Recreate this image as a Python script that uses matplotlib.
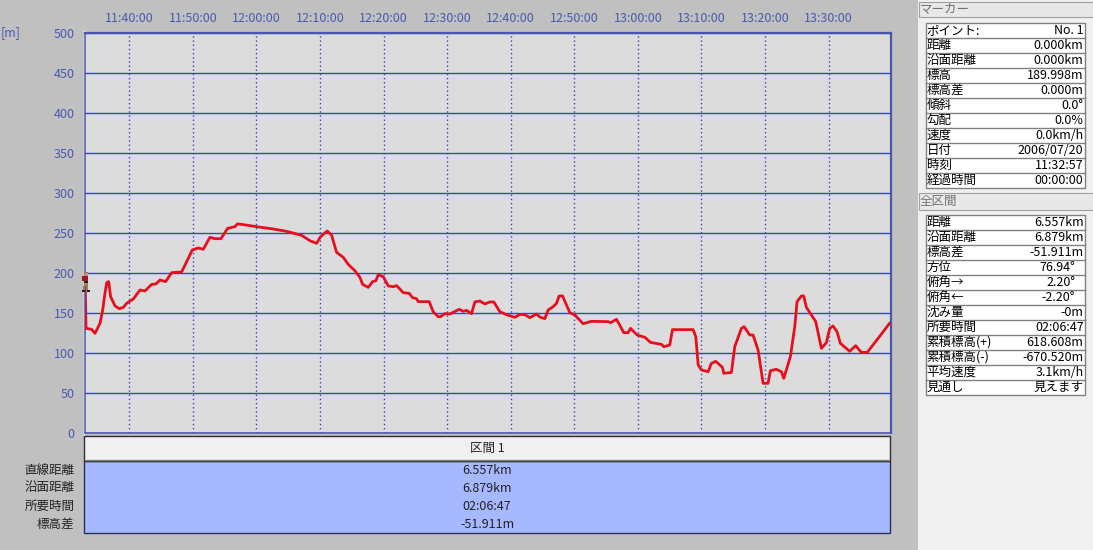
import matplotlib
matplotlib.use("Agg")
import numpy as np
import matplotlib.pyplot as plt
from matplotlib.patches import Rectangle

plt.rcParams["font.family"] = ["Noto Sans CJK JP", "DejaVu Sans"]

W, H = 1093, 550

# minutes since the start of the track (11:32:57)
START_TIME = "11:32:57"
TOTAL_MIN = 126.78
elapsed_min = [
    0.1, 0.24, 1.13, 1.65, 2.44, 2.86, 3.22, 3.49, 3.80, 4.11, 4.80, 5.48, 6.11, 6.63, 7.68,
    8.73, 9.51, 10.56, 11.24, 11.87, 12.76, 13.71, 15.28, 16.06, 16.96, 17.90, 18.68, 19.73,
    20.52, 21.46, 22.51, 23.66, 24.03, 24.71, 27.07, 29.69, 31.79, 34.15, 35.46, 36.51, 37.13,
    38.18, 38.86, 39.65, 40.70, 41.48, 42.53, 43.32, 43.74, 44.63, 45.31, 45.84, 46.20, 46.99,
    47.78, 48.57, 49.09, 49.61, 50.13, 51.07, 51.60, 52.23, 52.49, 54.22, 54.85, 55.63, 56.00,
    56.68, 57.47, 58.94, 59.57, 60.09, 60.88, 61.40, 62.19, 62.97, 63.76, 64.39, 65.33, 66.38,
    67.69, 68.48, 69.26, 70.05, 71.10, 71.62, 72.41, 72.93, 73.72, 74.24, 74.66, 75.19, 76.34,
    77.13, 78.43, 79.74, 82.37, 82.74, 83.68, 84.83, 85.51, 85.88, 86.93, 88.14, 89.02, 90.75,
    91.12, 92.06, 92.48, 95.73, 96.15, 96.53, 97.05, 98.09, 98.61, 99.29, 100.34, 100.55,
    101.76, 102.28, 103.33, 103.75, 104.64, 105.16, 105.95, 106.74, 107.52, 107.89, 108.83,
    109.62, 109.99, 111.03, 111.72, 112.08, 112.76, 113.13, 113.55, 115.02, 115.91, 116.69,
    117.22, 117.74, 118.37, 118.89, 120.36, 121.30, 122.19, 123.13, 126.64,
]
elevation_m = [
    190.0, 130.8, 129.6, 124.6, 137.1, 153.8, 174.6, 187.9, 189.2, 170.4, 158.8, 155.4, 157.1,
    162.1, 167.5, 178.8, 177.5, 185.8, 186.3, 191.3, 189.2, 200.4, 201.3, 214.2, 228.8, 231.3,
    229.6, 244.6, 242.9, 242.9, 255.8, 257.9, 261.3, 260.8, 257.9, 255.0, 252.1, 247.1, 240.4,
    237.1, 245.4, 252.5, 247.5, 225.8, 219.6, 210.8, 202.9, 194.6, 185.8, 182.1, 189.2, 190.4,
    197.9, 195.4, 183.8, 182.9, 184.2, 180.0, 175.4, 174.6, 169.2, 167.9, 164.2, 164.2, 151.6,
    145.4, 145.4, 149.2, 148.8, 154.6, 152.1, 153.3, 149.2, 163.8, 165.0, 161.3, 163.8, 163.8,
    151.6, 147.9, 144.6, 148.3, 147.9, 144.2, 148.8, 145.0, 142.9, 153.8, 157.9, 162.1, 171.3,
    171.3, 150.4, 147.5, 136.6, 139.6, 139.2, 137.9, 142.1, 125.4, 125.4, 130.8, 122.5, 119.6,
    113.3, 110.8, 107.9, 110.0, 129.2, 129.2, 120.4, 85.0, 78.8, 76.6, 87.1, 89.6, 82.1, 74.6,
    75.8, 107.9, 130.8, 132.9, 122.5, 122.5, 103.8, 62.1, 62.1, 77.9, 79.6, 76.6, 68.3, 95.4,
    132.9, 164.2, 171.3, 171.3, 157.1, 139.2, 105.8, 112.9, 130.8, 133.8, 126.7, 112.1, 102.1,
    109.2, 100.8, 100.8, 137.1,
]

# purple cursor line under the hiker
cursor_min = [0.1, 0.1]
cursor_m = [190.0, 150.0]

time_labels = ["11:40:00", "11:50:00", "12:00:00", "12:10:00", "12:20:00", "12:30:00",
               "12:40:00", "12:50:00", "13:00:00", "13:10:00", "13:20:00", "13:30:00"]
y_ticks = [0, 50, 100, 150, 200, 250, 300, 350, 400, 450, 500]

section_title = "区間 1"
section_names = ["直線距離", "沿面距離", "所要時間", "標高差"]
section_values = ["6.557km", "6.879km", "02:06:47", "-51.911m"]

marker_names = ["ポイント:", "距離", "沿面距離", "標高", "標高差", "傾斜", "勾配", "速度", "日付", "時刻", "経過時間"]
marker_values = ["No. 1", "0.000km", "0.000km", "189.998m", "0.000m", "0.0°", "0.0%", "0.0km/h",
                 "2006/07/20", "11:32:57", "00:00:00"]
total_names = ["距離", "沿面距離", "標高差", "方位", "俯角→", "俯角←", "沈み量", "所要時間",
               "累積標高(+)", "累積標高(-)", "平均速度", "見通し"]
total_values = ["6.557km", "6.879km", "-51.911m", "76.94°", "2.20°", "-2.20°", "-0m", "02:06:47",
                "618.608m", "-670.520m", "3.1km/h", "見えます"]

BG = "#C0C0C0"
PANEL = "#F0F0F0"
BLUE = "#3548B8"
TEXT_BLUE = "#4A5AAE"
DARK = "#222222"


def minutes_since_start(label):
    def to_min(s):
        h, m, sec = s.split(":")
        return int(h) * 60 + int(m) + int(sec) / 60
    return to_min(label) - to_min(START_TIME)


fig = plt.figure(figsize=(W / 100, H / 100), dpi=100, facecolor=BG)

# overlay in pixel coordinates for the window furniture
ui = fig.add_axes([0, 0, 1, 1], zorder=0)
ui.set_xlim(0, W)
ui.set_ylim(H, 0)
ui.axis("off")


def box(x0, y0, x1, y1, fc, ec="none", lw=1.0, z=1):
    ui.add_patch(Rectangle((x0, y0), x1 - x0, y1 - y0, facecolor=fc, edgecolor=ec, linewidth=lw, zorder=z))


def info_table(y0, names, values, nudge=()):
    row_h = 15
    box(925.5, y0 + 0.5, 1085, y0 + row_h * len(names) + 0.5, "white", "#808080", 1.0)
    for i, (name, value) in enumerate(zip(names, values)):
        y = y0 + row_h * (i + 0.5) + 1
        if i:
            ui.plot([925.5, 1085], [y0 + row_h * i + 0.5] * 2, color="#808080", lw=1.0, zorder=2)
        ui.text(926.5, y, name, fontsize=9, color="black", va="center", ha="left", zorder=3)
        right = 1075 if i in nudge else 1083.5
        ui.text(right, y, value, fontsize=9, color="black", va="center", ha="right", zorder=3)


# right hand panel
box(918, 0, W, H, PANEL)
box(919, 2, W, 17, "#E8E8E8", "#A0A0A0", 0.8)
ui.text(920, 9, "マーカー", fontsize=9, color="#707070", va="center")
info_table(22, marker_names, marker_values)
box(919, 193, W, 210, "#E8E8E8", "#A0A0A0", 0.8)
ui.text(920, 201, "全区間", fontsize=9, color="#707070", va="center")
info_table(214, total_names, total_values, nudge=(3, 4, 5))

# section table under the chart
box(84, 461, 889.5, 533, "#A6B8FF", "#2A2F5A", 1.0)
box(84, 436, 889.5, 461, PANEL, "#303030", 1.0)
ui.plot([86, 888], [460, 460], color="#808080", lw=1.0, zorder=2)
ui.text(487, 448, section_title, fontsize=9, color=DARK, ha="center", va="center", zorder=3)
for i, (name, value) in enumerate(zip(section_names, section_values)):
    y = 470 + 18 * i
    ui.text(74.5, y, name, fontsize=9, color=DARK, ha="right", va="center", zorder=3)
    ui.text(487, y, value, fontsize=9, color=DARK, ha="center", va="center", zorder=3)

ui.text(10.5, 33, "[m]", fontsize=9, color=TEXT_BLUE, ha="center", va="center")
ui.plot([83.5, 83.5], [31, 434], color="white", lw=1.0)

# elevation profile
left, right, top, bottom = 84.5, 890.5, 33, 433
ax = fig.add_axes([left / W, 1 - bottom / H, (right - left) / W, (bottom - top) / H],
                  facecolor="#DCDCDC", zorder=2)
ax.set_xlim(0, TOTAL_MIN)
ax.set_ylim(0, 500)

ax.set_yticks(y_ticks)
ax.set_xticks([minutes_since_start(t) for t in time_labels])
ax.set_xticklabels(time_labels)
ax.tick_params(axis="both", length=0, labelsize=9, labelcolor=TEXT_BLUE)
ax.tick_params(axis="x", top=False, bottom=False, labeltop=True, labelbottom=False, pad=6)
ax.tick_params(axis="y", pad=7)
ax.grid(True, axis="y", color=BLUE, lw=1.0)
ax.grid(True, axis="x", color=BLUE, lw=1.0, ls=(0, (1, 2)))
ax.set_axisbelow(True)
for side, spine in ax.spines.items():
    spine.set_color("#4A55B0")
    spine.set_linewidth(1.6 if side in ("top", "right") else 1.1)

ax.plot(elapsed_min, elevation_m, color="#E60F1E", lw=2.0, solid_joinstyle="round", zorder=3)
ax.plot(cursor_min, cursor_m, color="#8E2A7E", lw=1.6, zorder=4)

# hiker icon on the start point
icon = fig.add_axes([80.5 / W, 1 - 292 / H, 10 / W, 20 / H], zorder=4)
icon.set_xlim(0, 10)
icon.set_ylim(20, 0)
icon.axis("off")
icon_parts = [
    (4, 1, 3, 3, "#D09868"),
    (3, 0, 4, 1, "#B07040"),
    (1, 4, 6, 5, "#A01828"),
    (3, 9, 4, 2, "#282018"),
    (3, 11, 4, 3, "#9A8050"),
    (2, 14, 2, 4, "#9A8050"),
    (5, 14, 2, 4, "#9A8050"),
    (1, 18, 3, 1.5, "#202020"),
    (6, 18, 3, 1.5, "#202020"),
]
for x, y, w, h, c in icon_parts:
    icon.add_patch(Rectangle((x, y), w, h, facecolor=c, edgecolor="none"))

fig.savefig("out.png", dpi=100, facecolor=fig.get_facecolor())
